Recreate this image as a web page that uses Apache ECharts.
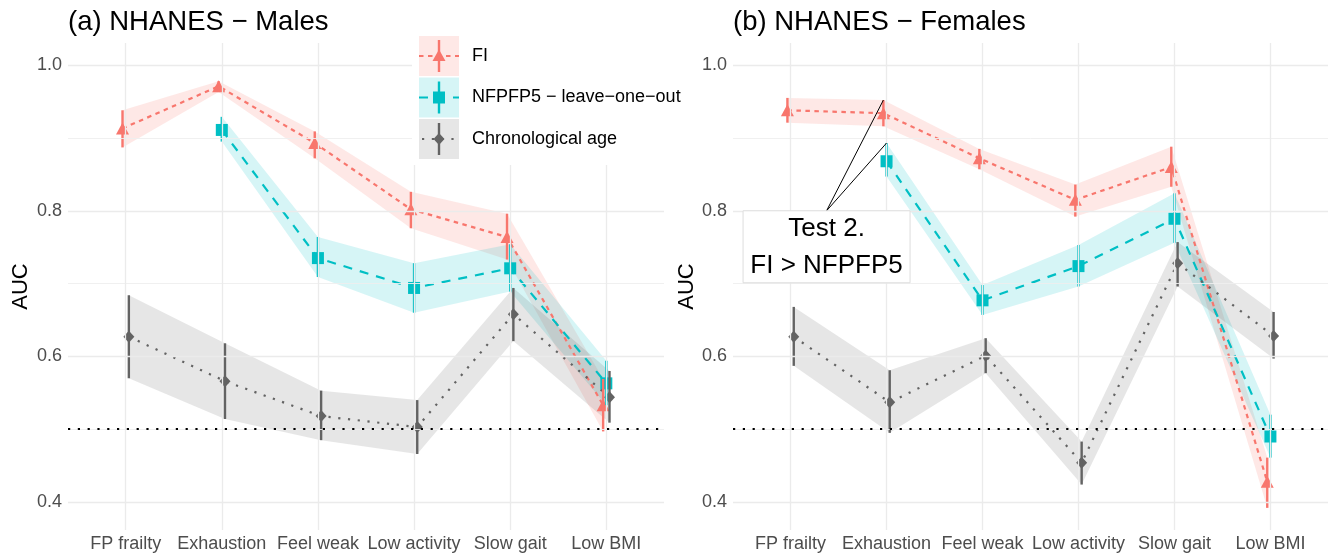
<!DOCTYPE html>
<html>
<head>
<meta charset="utf-8">
<script src="https://cdn.jsdelivr.net/npm/echarts@6/dist/echarts.min.js"></script>
<style>
html,body{margin:0;padding:0;background:#ffffff;}
#chart{width:1331px;height:557px;}
</style>
</head>
<body>
<div id="chart"></div>
<script>
// ---------------- DATA ----------------
const categories = ['FP frailty', 'Exhaustion', 'Feel weak', 'Low activity', 'Slow gait', 'Low BMI'];
const seriesNames = ['FI', 'NFPFP5 \u2212 leave\u2212one\u2212out', 'Chronological age'];
const panelTitles = ['(a) NHANES \u2212 Males', '(b) NHANES \u2212 Females'];
const yMajorBreaks = [0.4, 0.6, 0.8, 1.0];
const yMinorBreaks = [0.5, 0.7, 0.9];
const chanceLevel = 0.5;

// Males
const malesFI     = [0.913, 0.971, 0.893, 0.802, 0.764, 0.533];
const malesFILo   = [0.887, 0.963, 0.872, 0.776, 0.733, 0.497];
const malesFIHi   = [0.938, 0.978, 0.909, 0.826, 0.796, 0.569];
const malesNF     = [null, 0.911, 0.735, 0.694, 0.721, 0.563];
const malesNFLo   = [null, 0.895, 0.709, 0.660, 0.689, 0.533];
const malesNFHi   = [null, 0.929, 0.764, 0.728, 0.754, 0.594];
const malesCA     = [0.627, 0.566, 0.518, 0.503, 0.658, 0.544];
const malesCALo   = [0.570, 0.514, 0.485, 0.466, 0.621, 0.509];
const malesCAHi   = [0.684, 0.618, 0.553, 0.540, 0.694, 0.580];

// Females
const femalesFI   = [0.938, 0.934, 0.872, 0.815, 0.860, 0.428];
const femalesFILo = [0.921, 0.916, 0.857, 0.792, 0.833, 0.392];
const femalesFIHi = [0.955, 0.952, 0.885, 0.836, 0.888, 0.461];
const femalesNF   = [null, 0.868, 0.677, 0.724, 0.789, 0.490];
const femalesNFLo = [null, 0.847, 0.657, 0.696, 0.756, 0.461];
const femalesNFHi = [null, 0.893, 0.698, 0.753, 0.824, 0.520];
const femalesCA   = [0.627, 0.537, 0.601, 0.454, 0.728, 0.628];
const femalesCALo = [0.587, 0.495, 0.577, 0.424, 0.696, 0.597];
const femalesCAHi = [0.668, 0.581, 0.625, 0.483, 0.757, 0.661];

const annotationLines = ['Test 2.', 'FI > NFPFP5'];
const annotationAnchor = [0.375, 0.8];

// ---------------- STYLE ----------------
const FONT = '"Liberation Sans", Arial, Helvetica, sans-serif';
const palette = ['#F8766D', '#00BFC4', '#636363'];
const ribbonFill = ['rgba(248,118,109,0.17)', 'rgba(0,191,196,0.16)', 'rgba(99,99,99,0.16)'];
const dashes = [[4.5, 4.5], [9, 8], [2.2, 7.6]];
const symbols = ['triangle', 'rect', 'diamond'];
const symbolSizes = [[13, 12], 12, [11, 12]];
const dodge = [-0.033, 0, 0.033];
const yMin = 0.3616, yMax = 1.0304;

const panels = [
  { groups: [[malesFI, malesFILo, malesFIHi], [malesNF, malesNFLo, malesNFHi], [malesCA, malesCALo, malesCAHi]] },
  { groups: [[femalesFI, femalesFILo, femalesFIHi], [femalesNF, femalesNFLo, femalesNFHi], [femalesCA, femalesCALo, femalesCAHi]] }
];

const grids = [
  { left: 68, right: 667, top: 43, bottom: 27 },
  { left: 733, right: 2, top: 43, bottom: 27 }
];

const series = [];
panels.forEach((p, pi) => {
  // grid lines
  const gl = [];
  yMajorBreaks.forEach(v => gl.push({ yAxis: v, lineStyle: { color: '#EBEBEB', width: 1.3, type: 'solid' } }));
  yMinorBreaks.forEach(v => gl.push({ yAxis: v, lineStyle: { color: '#EEEEEE', width: 0.9, type: 'solid' } }));
  categories.forEach((c, i) => gl.push({ xAxis: i, lineStyle: { color: '#EBEBEB', width: 1.3, type: 'solid' } }));
  series.push({
    type: 'line', xAxisIndex: pi, yAxisIndex: pi, data: [], silent: true, z: 0,
    markLine: { silent: true, symbol: ['none', 'none'], label: { show: false }, animation: false, data: gl }
  });

  p.groups.forEach((g, si) => {
    const pts = [];
    g[0].forEach((v, i) => { if (v !== null) pts.push([i + dodge[si], v, g[1][i], g[2][i]]); });
    // ribbon
    series.push({
      type: 'custom', name: seriesNames[si], xAxisIndex: pi, yAxisIndex: pi, z: 1, silent: true,
      data: pts, encode: { x: 0, y: [2, 3] },
      renderItem: (params, api) => {
        if (params.dataIndex !== 0) return null;
        const upper = pts.map(q => api.coord([q[0], q[3]]));
        const lower = pts.map(q => api.coord([q[0], q[2]])).reverse();
        return { type: 'polygon', shape: { points: upper.concat(lower) }, style: { fill: ribbonFill[si] } };
      }
    });
  });

  // chance line
  series.push({
    type: 'line', xAxisIndex: pi, yAxisIndex: pi, data: [], silent: true, z: 2,
    markLine: { silent: true, symbol: ['none', 'none'], label: { show: false }, animation: false,
      data: [{ yAxis: chanceLevel, lineStyle: { color: '#000000', width: 2.2, type: [2.2, 7.6] } }] }
  });

  p.groups.forEach((g, si) => {
    const pts = [];
    g[0].forEach((v, i) => { if (v !== null) pts.push([i + dodge[si], v, g[1][i], g[2][i]]); });
    series.push({
      type: 'line', name: seriesNames[si], xAxisIndex: pi, yAxisIndex: pi, z: 3,
      data: pts.map(q => [q[0], q[1]]),
      symbol: symbols[si], symbolSize: symbolSizes[si], showSymbol: true,
      lineStyle: { color: palette[si], width: 2.2, type: dashes[si] },
      itemStyle: { color: palette[si] }
    });
    series.push({
      type: 'custom', name: seriesNames[si], xAxisIndex: pi, yAxisIndex: pi, z: 4, silent: true,
      data: pts, encode: { x: 0, y: [2, 3] },
      renderItem: (params, api) => {
        const x = api.value(0);
        const a = api.coord([x, api.value(2)]);
        const b = api.coord([x, api.value(3)]);
        return { type: 'line', shape: { x1: a[0], y1: a[1], x2: b[0], y2: b[1] }, style: { stroke: palette[si], lineWidth: 2.4 } };
      }
    });
  });
});

// annotation on females panel
const annotationTargets = [[1 + dodge[0], femalesFIHi[1]], [1 + dodge[1], femalesNFHi[1]]];
series.push({
  type: 'custom', xAxisIndex: 1, yAxisIndex: 1, z: 6, silent: true,
  data: [annotationAnchor], encode: { x: 0, y: 1 },
  renderItem: (params, api) => {
    const a = api.coord(annotationAnchor);
    const t1 = api.coord(annotationTargets[0]);
    const t2 = api.coord(annotationTargets[1]);
    const w = 167, h = 72;
    return { type: 'group', children: [
      { type: 'line', shape: { x1: a[0], y1: a[1], x2: t1[0], y2: t1[1] }, style: { stroke: '#000', lineWidth: 1 } },
      { type: 'line', shape: { x1: a[0], y1: a[1], x2: t2[0], y2: t2[1] }, style: { stroke: '#000', lineWidth: 1 } },
      { type: 'rect', shape: { x: a[0] - w / 2, y: a[1], width: w, height: h }, style: { fill: '#ffffff', stroke: '#DDDDDD', lineWidth: 1 } },
      { type: 'text', style: { text: annotationLines.join('\n'), x: a[0], y: a[1] + h / 2 + 1, align: 'center', verticalAlign: 'middle',
        fontSize: 26, fontFamily: FONT, fill: '#000000', lineHeight: 37 } }
    ] };
  }
});

// legend key glyphs
const legLeft = 419, legTop = 36, keyW = 40, keyH = 40, keyGap = 1.5;
const glyphs = [];
seriesNames.forEach((n, i) => {
  const cx = legLeft + keyW / 2, cy = legTop + keyH / 2 + i * (keyH + keyGap);
  glyphs.push({ type: 'line', z: 100, shape: { x1: legLeft, y1: cy, x2: legLeft + keyW, y2: cy }, style: { stroke: palette[i], lineWidth: 2.2, lineDash: dashes[i], lineDashOffset: i === 2 ? -3 : 0 } });
  glyphs.push({ type: 'line', z: 101, shape: { x1: cx, y1: cy - 16, x2: cx, y2: cy + 16 }, style: { stroke: palette[i], lineWidth: 2.4 } });
  if (i === 0) glyphs.push({ type: 'polygon', z: 102, shape: { points: [[cx, cy - 6.5], [cx + 6.5, cy + 5], [cx - 6.5, cy + 5]] }, style: { fill: palette[i] } });
  if (i === 1) glyphs.push({ type: 'rect', z: 102, shape: { x: cx - 6, y: cy - 6, width: 12, height: 12 }, style: { fill: palette[i] } });
  if (i === 2) glyphs.push({ type: 'polygon', z: 102, shape: { points: [[cx, cy - 6], [cx + 5.5, cy], [cx, cy + 6], [cx - 5.5, cy]] }, style: { fill: palette[i] } });
});

const option = {
  animation: false,
  backgroundColor: '#ffffff',
  textStyle: { fontFamily: FONT },
  title: panelTitles.map((t, i) => ({
    text: t, left: grids[i].left, top: 8, padding: 0,
    textStyle: { fontSize: 27.5, fontWeight: 'normal', color: '#000000', fontFamily: FONT }
  })),
  grid: grids,
  legend: {
    orient: 'vertical', left: legLeft - 7, top: legTop - 6, padding: [6, 6, 6, 7], z: 10,
    backgroundColor: '#ffffff',
    itemWidth: keyW, itemHeight: keyH, itemGap: keyGap, icon: 'rect', selectedMode: false,
    textStyle: { fontSize: 18, color: '#000000', fontFamily: FONT, padding: [0, 0, 0, 8] },
    data: seriesNames.map((n, i) => ({ name: n, icon: 'rect', itemStyle: { color: ribbonFill[i], borderWidth: 0 } }))
  },
  xAxis: [0, 1].map(pi => ({
    type: 'value', gridIndex: pi, min: -0.6, max: 5.6, interval: 0.2,
    axisLine: { show: false }, axisTick: { show: false }, splitLine: { show: false },
    axisLabel: {
      fontSize: 18, color: '#4D4D4D', fontFamily: FONT, margin: 5,
      formatter: v => { const i = Math.round(v); return (Math.abs(v - i) < 1e-6 && i >= 0 && i < categories.length) ? categories[i] : ''; }
    }
  })),
  yAxis: [0, 1].map(pi => ({
    type: 'value', gridIndex: pi, min: yMin, max: yMax,
    name: 'AUC', nameLocation: 'middle', nameGap: pi === 0 ? 36 : 35,
    nameTextStyle: { fontSize: 22, color: '#000000', fontFamily: FONT },
    axisLine: { show: false }, axisTick: { show: false }, splitLine: { show: false },
    axisLabel: {
      fontSize: 18, color: '#4D4D4D', fontFamily: FONT, margin: 6,
      formatter: v => {
        const hit = yMajorBreaks.find(b => Math.abs(b - v) < 1e-6);
        return hit !== undefined ? hit.toFixed(1) : '';
      }
    }
  })),
  graphic: glyphs,
  series: series
};

const chart = echarts.init(document.getElementById('chart'), null, { renderer: 'canvas' });
chart.setOption(option);
</script>
</body>
</html>
